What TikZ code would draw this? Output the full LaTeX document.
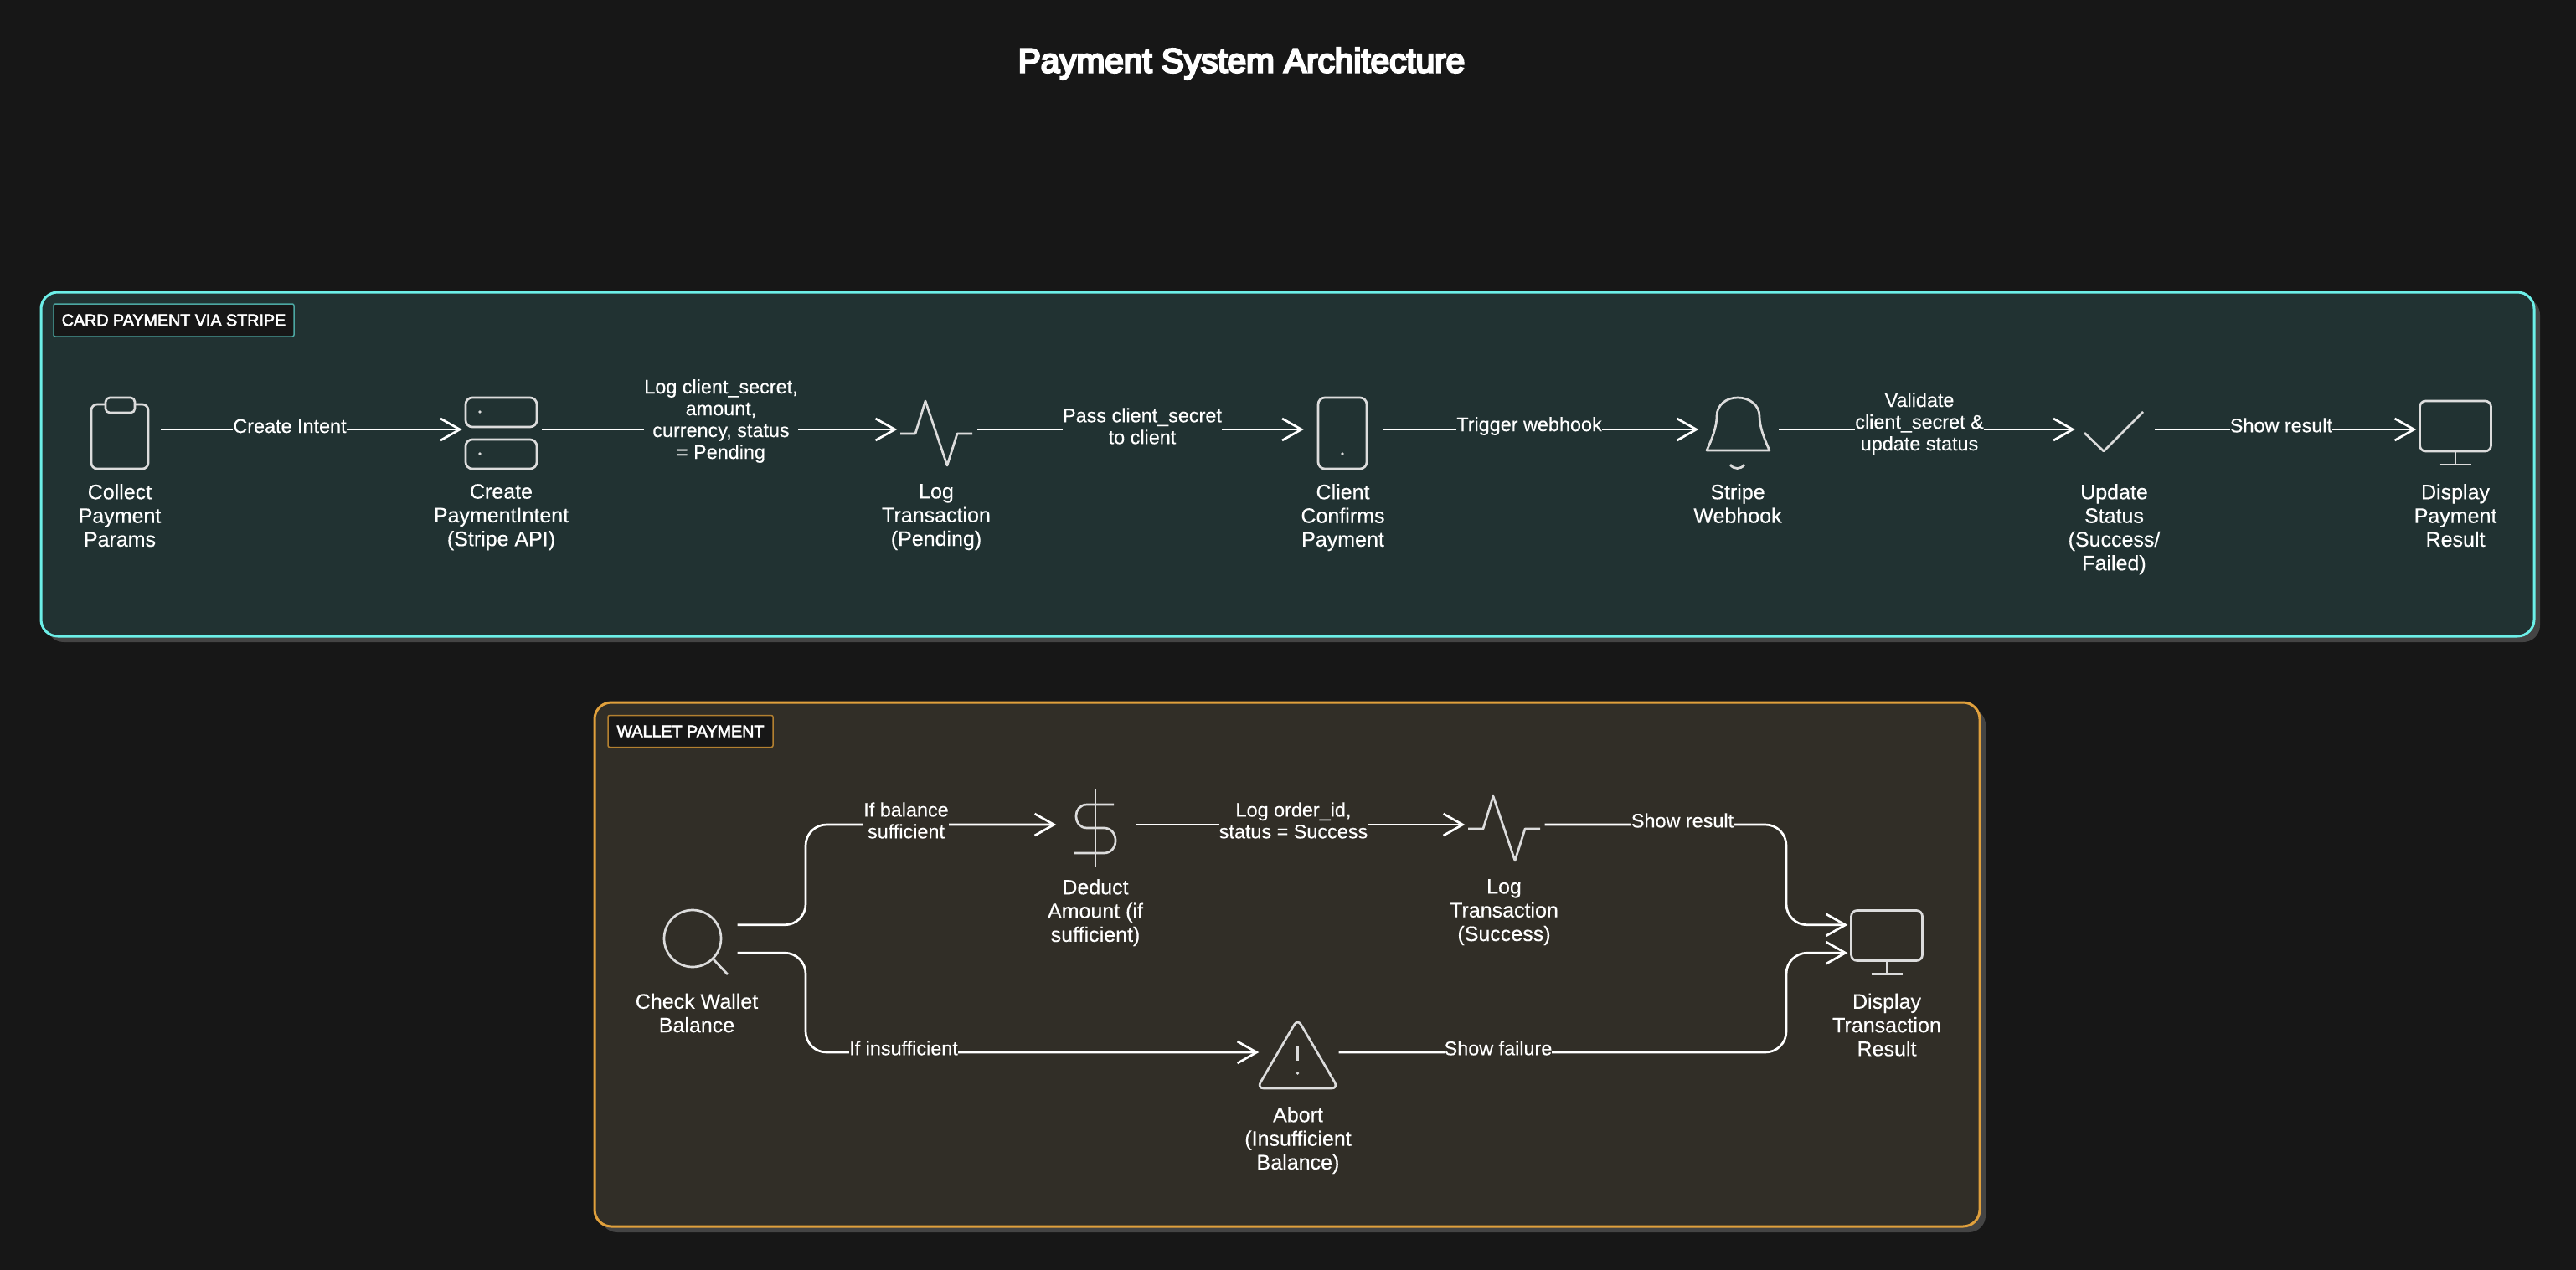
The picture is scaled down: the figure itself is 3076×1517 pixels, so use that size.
\documentclass[tikz,border=0pt]{standalone}
\usepackage{fontspec}
\usepackage{xcolor}
\usetikzlibrary{positioning,arrows.meta,calc}
\setmainfont[FakeBold=0.25]{Liberation Sans}
\newfontfamily\heavyfont[FakeBold=6]{Liberation Sans}
\newfontfamily\tagfont[FakeBold=3]{Liberation Sans}
\definecolor{pagedark}{HTML}{171717}
\definecolor{cardfill}{HTML}{213232}
\definecolor{cardedge}{HTML}{6CEFE8}
\definecolor{walletfill}{HTML}{312E27}
\definecolor{walletedge}{HTML}{E0A03C}
\definecolor{shadowgray}{HTML}{444444}
\definecolor{iconstroke}{HTML}{DCDCDC}
\tikzset{
    iconline/.style={draw=iconstroke, line width=2.7pt, line join=round},
    iconbox/.style={minimum width=97pt, minimum height=1pt, inner sep=0pt},
    flow/.style={draw=white, line width=2.7pt, shorten >=-2pt, -{Straight Barb[length=23pt,width=26pt]}},
    caption/.style={text=white, font=\fontsize{25}{28.3}\selectfont, align=center, inner sep=0pt,
        execute at begin node={\rule{0pt}{22pt}}},
    edgetext/.style={text=white, font=\fontsize{23.4}{26}\selectfont, align=center, inner sep=0pt},
    cardlabel/.style={edgetext, fill=cardfill},
    walletlabel/.style={edgetext, fill=walletfill},
    tagbox/.style={fill=pagedark, line width=1.5pt, rounded corners=2pt, text=white, inner sep=0pt,
        font=\tagfont\fontsize{19.7}{24}\selectfont},
    pulse/.pic={\draw[iconline] (-43,5) -- (-25,5) -- (-13,-34) -- (13,43) -- (25,5) -- (43,5);},
    monitor/.pic={
        \draw[iconline, rounded corners=7pt] (-42.5,-34) rectangle (42.5,26);
        \draw[iconline] (0,26) -- (0,42) (-18.5,42) -- (18.5,42);
    }
}
\begin{document}
\begin{tikzpicture}[x=1pt,y=-1pt]
    \useasboundingbox (0,0) rectangle (3076,1517);
    \fill[pagedark] (0,0) rectangle (3076,1517);

    % Title
    \node[text=white, font=\heavyfont\fontsize{40.5}{46}\selectfont, inner sep=0pt] (sheettitle) at (1482.5,76) {Payment System Architecture};

    % Panels
    \fill[shadowgray, rounded corners=20pt] (56,356) rectangle (3033,767);
    \draw[draw=cardedge, fill=cardfill, line width=3pt, rounded corners=20pt] (49,349) rectangle (3026,760);
    \fill[shadowgray, rounded corners=20pt] (717,846) rectangle (2371,1472);
    \draw[draw=walletedge, fill=walletfill, line width=3pt, rounded corners=20pt] (710,839) rectangle (2364,1465);

    \node[tagbox, draw=cardedge!70!black, minimum width=287pt, minimum height=39pt] (cardtag) at (207.5,382.5) {CARD PAYMENT VIA STRIPE};
    \node[tagbox, draw=walletedge!80!black, minimum width=197pt, minimum height=38pt] (wallettag) at (824.5,873.5) {WALLET PAYMENT};

    % Card payment steps
    \node[iconbox] (collect) at (143,513) {};
    \node[iconbox] (intent) at (598.5,513) {};
    \node[iconbox] (logpending) at (1118,513) {};
    \node[iconbox] (client) at (1603.5,513) {};
    \node[iconbox] (webhook) at (2075,513) {};
    \node[iconbox] (status) at (2524.5,513) {};
    \node[iconbox] (payresult) at (2932,513) {};

    \node[caption, below=65pt of collect.center] (collecttext) {Collect\\Payment\\Params};
    \node[caption, below=65pt of intent.center] (intenttext) {Create\\PaymentIntent\\(Stripe API)};
    \node[caption, below=65pt of logpending.center] (logpendingtext) {Log\\Transaction\\(Pending)};
    \node[caption, below=65pt of client.center] (clienttext) {Client\\Confirms\\Payment};
    \node[caption, below=65pt of webhook.center] (webhooktext) {Stripe\\Webhook};
    \node[caption, below=65pt of status.center] (statustext) {Update\\Status\\(Success/\\Failed)};
    \node[caption, below=65pt of payresult.center] (payresulttext) {Display\\Payment\\Result};

    % Card payment icons
    \draw[iconline, rounded corners=7pt] (109,483) rectangle (177,560);
    \draw[iconline, fill=cardfill, rounded corners=5pt] (126,475) rectangle (161,493);
    \draw[iconline, rounded corners=8pt] (556,475) rectangle (641,510);
    \draw[iconline, rounded corners=8pt] (556,525) rectangle (641,560);
    \fill[iconstroke] (573,492) circle (1.8) (573,542) circle (1.8);
    \pic at (logpending) {pulse};
    \draw[iconline, rounded corners=8pt] (1574,475) rectangle (1632,560);
    \fill[iconstroke] (1603,542) circle (1.8);
    \draw[iconline] (2038,538) .. controls (2044,525) and (2050,510) .. (2050,497)
        .. controls (2050,484) and (2061,475) .. (2075,475)
        .. controls (2089,475) and (2101,484) .. (2101,497)
        .. controls (2101,510) and (2107,525) .. (2113,538) -- cycle;
    \draw[iconline] (2066,555) .. controls (2070,561) and (2079,561) .. (2083,555);
    \draw[iconline] (2489,517) -- (2512,539) -- (2559,492);
    \pic at (payresult) {monitor};

    % Card payment connectors
    \draw[flow] (collect) -- (intent);
    \draw[flow] (intent) -- (logpending);
    \draw[flow] (logpending) -- (client);
    \draw[flow] (client) -- (webhook);
    \draw[flow] (webhook) -- (status);
    \draw[flow] (status) -- (payresult);

    \node[cardlabel] (createlabel) at (346,509) {Create Intent};
    \node[cardlabel] (loglabel) at (861,503) {Log client\_secret,\\amount,\\currency, status\\= Pending};
    \node[cardlabel] (passlabel) at (1364,509) {Pass client\_secret\\to client};
    \node[cardlabel] (triggerlabel) at (1826,509) {Trigger webhook};
    \node[cardlabel] (validatelabel) at (2292,506) {Validate\\client\_secret \&\\update status};
    \node[cardlabel] (showlabel) at (2724,508) {Show result};

    % Wallet payment steps
    \node[iconbox, minimum height=33pt] (check) at (832,1121.5) {};
    \node[iconbox] (deduct) at (1308,985) {};
    \node[iconbox] (logsuccess) at (1796,985) {};
    \node[iconbox] (abort) at (1550,1257) {};
    \node[iconbox, minimum height=33pt] (txresult) at (2253,1121.5) {};
    \coordinate (splitline) at (962,1121.5);
    \coordinate (mergeline) at (2133,1121.5);

    \node[caption, below=65pt of check.center] (checktext) {Check Wallet\\Balance};
    \node[caption, below=65pt of deduct.center] (deducttext) {Deduct\\Amount (if\\sufficient)};
    \node[caption, below=65pt of logsuccess.center] (logsuccesstext) {Log\\Transaction\\(Success)};
    \node[caption, below=65pt of abort.center] (aborttext) {Abort\\(Insufficient\\Balance)};
    \node[caption, below=65pt of txresult.center] (txresulttext) {Display\\Transaction\\Result};

    % Wallet payment icons
    \draw[iconline] (827,1121) circle (34);
    \draw[iconline] (852,1146) -- (869,1164);
    \draw[iconline] (1308,943) -- (1308,1036);
    \draw[iconline] (1330,961) -- (1298,961) to[out=180,in=180,looseness=1.6] (1298,989) -- (1318,989)
        to[out=0,in=0,looseness=1.6] (1318,1019) -- (1282,1019);
    \pic at (logsuccess) {pulse};
    \draw[iconline, rounded corners=8pt] (1549.5,1217) -- (1598,1300) -- (1501,1300) -- cycle;
    \draw[iconline] (1549.5,1249) -- (1549.5,1267);
    \fill[iconstroke] (1549.5,1282) circle (1.8);
    \pic at (txresult) {monitor};

    % Wallet payment connectors
    \draw[flow, rounded corners=25pt] (check.north east) -- (check.north east -| splitline) -- (splitline |- deduct) -- (deduct);
    \draw[flow, rounded corners=25pt] (check.south east) -- (check.south east -| splitline) -- (splitline |- abort) -- (abort);
    \draw[flow] (deduct) -- (logsuccess);
    \draw[flow, rounded corners=25pt] (logsuccess) -- (mergeline |- logsuccess) -- (mergeline |- txresult.north west) -- (txresult.north west);
    \draw[flow, rounded corners=25pt] (abort) -- (mergeline |- abort) -- (mergeline |- txresult.south west) -- (txresult.south west);

    \node[walletlabel] (balancelabel) at (1082,980) {If balance\\sufficient};
    \node[walletlabel] (insufflabel) at (1079,1252) {If insufficient};
    \node[walletlabel] (orderlabel) at (1544.5,980) {Log order\_id,\\status = Success};
    \node[walletlabel] (resultlabel) at (2009,980) {Show result};
    \node[walletlabel] (failurelabel) at (1789,1252) {Show failure};
\end{tikzpicture}
\end{document}
